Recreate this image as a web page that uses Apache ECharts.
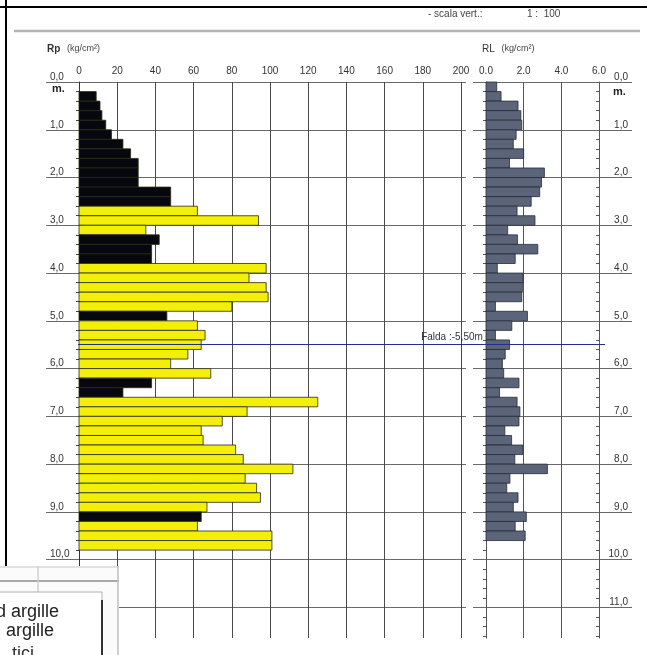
<!DOCTYPE html>
<html>
<head>
<meta charset="utf-8">
<script src="https://cdn.jsdelivr.net/npm/echarts@6/dist/echarts.min.js"></script>
<style>
  html, body { margin: 0; padding: 0; background: #fff; }
  #chart { width: 647px; height: 655px; }
</style>
</head>
<body>
<div id="chart"></div>
<script>
// profondità (m) dell'inizio di ogni lettura Rp
const rpDepth = [0.2, 0.4, 0.6, 0.8, 1.0, 1.2, 1.4, 1.6, 1.8, 2.0, 2.2, 2.4,
  2.6, 2.8, 3.0, 3.2, 3.4, 3.6, 3.8, 4.0, 4.2, 4.4, 4.6, 4.8,
  5.0, 5.2, 5.4, 5.6, 5.8, 6.0, 6.2, 6.4, 6.6, 6.8, 7.0, 7.2,
  7.4, 7.6, 7.8, 8.0, 8.2, 8.4, 8.6, 8.8, 9.0, 9.2, 9.4, 9.6]
// resistenza alla punta Rp (kg/cm²)
const rpValue = [9, 11, 12, 14, 17, 23, 27, 31, 31, 31, 48, 48,
  62, 94, 35, 42, 38, 38, 98, 89, 98, 99, 80, 46,
  62, 66, 64, 57, 48, 69, 38, 23, 125, 88, 75, 64,
  65, 82, 86, 112, 87, 93, 95, 67, 64, 62, 101, 101]
// A = argille (nero), S = sabbie (giallo)
const rpSoil = ['A', 'A', 'A', 'A', 'A', 'A', 'A', 'A', 'A', 'A', 'A', 'A',
  'S', 'S', 'S', 'A', 'A', 'A', 'S', 'S', 'S', 'S', 'S', 'A',
  'S', 'S', 'S', 'S', 'S', 'S', 'A', 'A', 'S', 'S', 'S', 'S',
  'S', 'S', 'S', 'S', 'S', 'S', 'S', 'S', 'A', 'S', 'S', 'S']

// profondità (m) dell'inizio di ogni lettura RL
const rlDepth = [0.0, 0.2, 0.4, 0.6, 0.8, 1.0, 1.2, 1.4, 1.6, 1.8, 2.0, 2.2,
  2.4, 2.6, 2.8, 3.0, 3.2, 3.4, 3.6, 3.8, 4.0, 4.2, 4.4, 4.6,
  4.8, 5.0, 5.2, 5.4, 5.6, 5.8, 6.0, 6.2, 6.4, 6.6, 6.8, 7.0,
  7.2, 7.4, 7.6, 7.8, 8.0, 8.2, 8.4, 8.6, 8.8, 9.0, 9.2, 9.4]
// resistenza laterale RL (kg/cm²)
const rlValue = [0.57, 0.8, 1.7, 1.85, 1.9, 1.6, 1.45, 2.0, 1.25, 3.1, 2.95, 2.85,
  2.4, 1.65, 2.6, 1.15, 1.67, 2.75, 1.55, 0.6, 1.97, 1.93, 1.9, 0.5,
  2.2, 1.37, 0.5, 1.25, 1.02, 0.87, 0.94, 1.75, 0.72, 1.65, 1.8, 1.75,
  1.0, 1.36, 1.96, 1.53, 3.26, 1.27, 1.1, 1.7, 1.45, 2.14, 1.55, 2.08]

const FALDA = 5.5
const STEP = 0.2
const DEPTH_MAX = 11.64
const FONT = '"Liberation Sans", Arial, sans-serif'

const TOP = 82
const HEIGHT = 556

const depthLabel = (v) => Number.isInteger(v) ? v.toFixed(1).replace('.', ',') : ''

// asse profondità comune
const depthAxis = (gridIndex, extra) => Object.assign({
  gridIndex: gridIndex,
  type: 'value',
  min: 0,
  max: DEPTH_MAX,
  inverse: true,
  interval: 1,
  axisLine: { show: false },
  axisTick: { show: false },
  axisLabel: { show: false },
  splitLine: { show: false }
}, extra)

const hiddenX = (gridIndex) => ({
  gridIndex: gridIndex, type: 'value', min: 0, max: 1, show: false
})

// barra orizzontale da 0 al valore, alta uno step di profondità
const barItem = (fillFn, stroke) => (params, api) => {
  const top = api.value(0)
  const v = api.value(1)
  const a = api.coord([0, top])
  const b = api.coord([v, top + STEP])
  return {
    type: 'rect',
    shape: { x: a[0], y: a[1], width: b[0] - a[0], height: b[1] - a[1] },
    style: { fill: fillFn(params.dataIndex), stroke: stroke, lineWidth: 0.8 }
  }
}

// ritaglio di legenda in basso a sinistra (sopra a tutto)
const overlay = [
  { type: 'rect', shape: { x: 0, y: 566, width: 119, height: 89 }, style: { fill: '#fbfbfb' } },
  { type: 'line', shape: { x1: 0, y1: 567, x2: 119, y2: 567 }, style: { stroke: '#c8c8c8', lineWidth: 1 } },
  { type: 'line', shape: { x1: 0, y1: 581, x2: 119, y2: 581 }, style: { stroke: '#a8a8a8', lineWidth: 2 } },
  { type: 'line', shape: { x1: 118, y1: 566, x2: 118, y2: 655 }, style: { stroke: '#c0c0c0', lineWidth: 1.5 } },
  { type: 'line', shape: { x1: 38, y1: 566, x2: 38, y2: 592 }, style: { stroke: '#d0d0d0', lineWidth: 1.5 } },
  { type: 'rect', shape: { x: -2, y: 592, width: 104, height: 70 }, style: { fill: '#fff', stroke: '#b0b0b0', lineWidth: 1 } },
  { type: 'line', shape: { x1: 102, y1: 600, x2: 102, y2: 655 }, style: { stroke: '#333', lineWidth: 2 } },
  { type: 'text', left: -4, top: 603, style: { text: 'd argille', fontSize: 18, fill: '#222', fontFamily: FONT } },
  { type: 'text', left: 6, top: 622, style: { text: 'argille', fontSize: 18, fill: '#222', fontFamily: FONT } },
  { type: 'text', left: 12, top: 645, style: { text: 'tici', fontSize: 18, fill: '#333', fontFamily: FONT } }
].map((el) => Object.assign(el, { zlevel: 1, z: 50 }))

const chart = echarts.init(document.getElementById('chart'))

const option = {
  animation: false,
  backgroundColor: '#fff',
  grid: [
    { left: 46, top: TOP, width: 420, height: HEIGHT },   // linee + etichette sinistra
    { left: 473, top: TOP, width: 159, height: HEIGHT },  // linee + etichette destra
    { left: 79, top: TOP, width: 382, height: HEIGHT },   // Rp
    { left: 486, top: TOP, width: 113, height: HEIGHT },  // RL
    { left: 78, top: TOP, width: 527, height: HEIGHT }    // falda
  ],
  xAxis: [
    hiddenX(0),
    hiddenX(1),
    {
      gridIndex: 2, type: 'value', min: 0, max: 200, interval: 20, position: 'top',
      axisLine: { show: false }, axisTick: { show: false },
      axisLabel: { margin: 6, fontSize: 10, color: '#333', fontFamily: FONT },
      splitLine: { lineStyle: { color: '#4a4a4a', width: 1 } }
    },
    {
      gridIndex: 3, type: 'value', min: 0, max: 6, interval: 2, position: 'top',
      axisLine: { show: false }, axisTick: { show: false },
      axisLabel: { margin: 6, fontSize: 10, color: '#333', fontFamily: FONT, formatter: (v) => v.toFixed(1) },
      splitLine: { lineStyle: { color: '#555', width: 1 } }
    },
    hiddenX(4)
  ],
  yAxis: [
    depthAxis(0, {
      position: 'left',
      axisLabel: {
        show: true, inside: true, margin: 4, verticalAlign: 'bottom', showMaxLabel: false,
        fontSize: 10, color: '#333', fontFamily: FONT, formatter: depthLabel
      },
      splitLine: { show: true, showMaxLine: false, lineStyle: { color: '#6a6a6a', width: 1 } }
    }),
    depthAxis(1, {
      position: 'right',
      axisLabel: {
        show: true, inside: true, margin: 4, verticalAlign: 'bottom', showMaxLabel: false,
        fontSize: 10, color: '#333', fontFamily: FONT, formatter: depthLabel
      },
      splitLine: { show: true, showMaxLine: false, lineStyle: { color: '#6a6a6a', width: 1 } }
    }),
    depthAxis(2, {
      position: 'left',
      axisLine: { show: true, lineStyle: { color: '#333' } },
      minorTick: { show: true, splitNumber: 5, length: 3, lineStyle: { color: '#444' } }
    }),
    depthAxis(3, {
      position: 'left',
      axisLine: { show: true, lineStyle: { color: '#555' } },
      minorTick: { show: true, splitNumber: 5, length: 3, lineStyle: { color: '#555' } }
    }),
    depthAxis(4, { show: false }),
    // tacche sulla linea 6,0 della RL
    depthAxis(3, {
      position: 'right',
      axisLine: { show: true, onZero: false, lineStyle: { color: '#555' } },
      axisTick: { show: false, inside: true },
      minorTick: { show: true, splitNumber: 5, length: 3, lineStyle: { color: '#555' } }
    })
  ],
  series: [
    {
      name: 'Rp',
      type: 'custom',
      xAxisIndex: 2,
      yAxisIndex: 2,
      encode: { x: 1, y: 0 },
      data: rpDepth.map((d, i) => [d, rpValue[i]]),
      renderItem: barItem((i) => rpSoil[i] === 'A' ? '#07070f' : '#f4ef08', '#2a2a14'),
      z: 3
    },
    {
      name: 'RL',
      type: 'custom',
      xAxisIndex: 3,
      yAxisIndex: 3,
      encode: { x: 1, y: 0 },
      data: rlDepth.map((d, i) => [d, rlValue[i]]),
      renderItem: barItem(() => '#5c6479', '#262c3a'),
      z: 3
    },
    {
      name: 'Falda',
      type: 'line',
      xAxisIndex: 4,
      yAxisIndex: 4,
      data: [],
      z: 4,
      markLine: {
        silent: true,
        symbol: 'none',
        lineStyle: { color: '#22308a', width: 1, type: 'solid' },
        data: [
          [
            { coord: [0, FALDA] },
            {
              coord: [0.772, FALDA],
              label: {
                show: true, position: 'insideEndTop', distance: 2,
                formatter: 'Falda :-5,50m', fontSize: 10, color: '#333', fontFamily: FONT
              }
            }
          ],
          [
            { coord: [0.772, FALDA], label: { show: false } },
            { coord: [1, FALDA] }
          ]
        ]
      }
    }
  ],
  graphic: [
    // cornice
    { type: 'line', shape: { x1: 0, y1: 7, x2: 647, y2: 7 }, style: { stroke: '#000', lineWidth: 2 }, z: 10 },
    { type: 'line', shape: { x1: 6, y1: 0, x2: 6, y2: 567 }, style: { stroke: '#000', lineWidth: 2 }, z: 10 },
    { type: 'line', shape: { x1: 14, y1: 31, x2: 640, y2: 31 }, style: { stroke: '#b4b4b4', lineWidth: 2.5 }, z: 10 },
    {
      type: 'text', left: 428, top: 9, z: 10,
      style: { text: '- scala vert.:', fontSize: 10, fill: '#444', fontFamily: FONT }
    },
    {
      type: 'text', left: 527, top: 9, z: 10,
      style: { text: '1 :  100', fontSize: 10, fill: '#444', fontFamily: FONT }
    },
    {
      type: 'text', left: 47, top: 43, z: 10,
      style: {
        text: '{b|Rp}  {n|(kg/cm²)}', fontFamily: FONT,
        rich: { b: { fontSize: 10, fontWeight: 'bold', fill: '#333' }, n: { fontSize: 9, fill: '#444' } }
      }
    },
    {
      type: 'text', left: 482, top: 43, z: 10,
      style: {
        text: '{b|RL}  {n|(kg/cm²)}', fontFamily: FONT,
        rich: { b: { fontSize: 10, fill: '#333' }, n: { fontSize: 9, fill: '#444' } }
      }
    },
    {
      type: 'text', left: 52, top: 83, z: 10,
      style: { text: 'm.', fontSize: 11, fontWeight: 'bold', fill: '#222', fontFamily: FONT }
    },
    {
      type: 'text', left: 613, top: 86, z: 10,
      style: { text: 'm.', fontSize: 11, fontWeight: 'bold', fill: '#222', fontFamily: FONT }
    }
  ].concat(overlay)
}

chart.setOption(option)
</script>
</body>
</html>
